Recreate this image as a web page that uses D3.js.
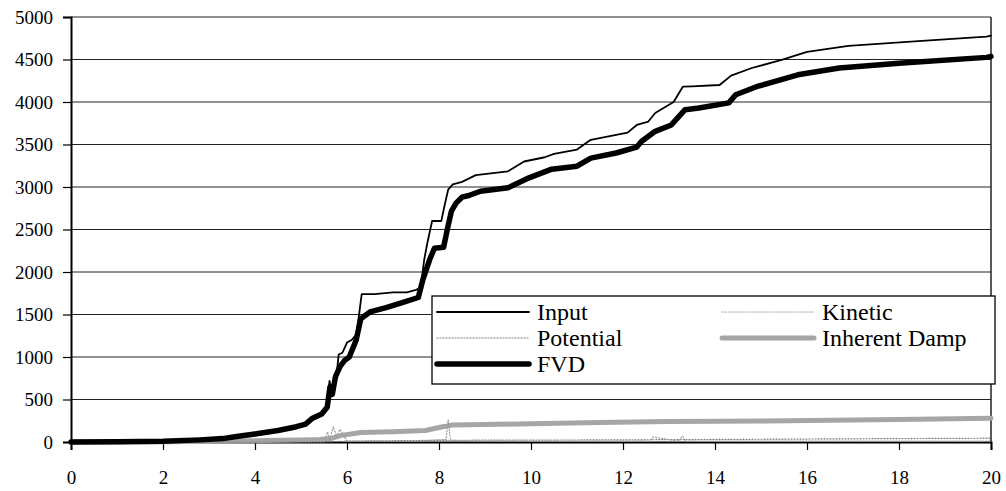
<!DOCTYPE html>
<html>
<head>
<meta charset="utf-8">
<script src="https://cdn.jsdelivr.net/npm/d3@7"></script>
<style>
html,body{margin:0;padding:0;background:#fff;}
svg{display:block;}
svg text{font-family:'Liberation Serif','Times New Roman',serif;}
</style>
</head>
<body>
<svg id="chart" width="1006" height="491"></svg>
<script>
// ---- data (time in s, energy) ----
const xTicks = [0, 2, 4, 6, 8, 10, 12, 14, 16, 18, 20];
const yTicks = [0, 500, 1000, 1500, 2000, 2500, 3000, 3500, 4000, 4500, 5000];

const inputT = [0, 1, 2, 2.8, 3.3, 3.6, 4.0, 4.5, 4.9, 5.1, 5.25, 5.45, 5.57, 5.62, 5.66, 5.70, 5.77, 5.82, 5.9, 6.0, 6.1, 6.2, 6.25, 6.32, 6.6, 7.0, 7.3, 7.5, 7.6, 7.68, 7.75, 7.85, 8.05, 8.12, 8.2, 8.3, 8.5, 8.8, 9.5, 9.85, 10.3, 10.5, 11.0, 11.3, 12.1, 12.3, 12.55, 12.7, 13.1, 13.3, 13.5, 14.1, 14.35, 14.8, 15.45, 16.0, 16.9, 18.5, 19.9, 20];
const inputV = [0, 2, 8, 25, 40, 65, 95, 140, 185, 215, 285, 330, 410, 720, 600, 690, 780, 1030, 1050, 1170, 1200, 1260, 1450, 1740, 1740, 1760, 1760, 1790, 1815, 2150, 2350, 2600, 2600, 2780, 2970, 3030, 3060, 3140, 3185, 3300, 3350, 3390, 3440, 3555, 3640, 3730, 3770, 3870, 4000, 4180, 4185, 4200, 4310, 4400, 4495, 4590, 4660, 4720, 4770, 4780];

const fvdT = [0, 1, 2, 2.8, 3.3, 3.6, 4.0, 4.5, 4.9, 5.1, 5.25, 5.45, 5.57, 5.63, 5.68, 5.75, 5.85, 5.95, 6.05, 6.2, 6.3, 6.5, 6.85, 7.2, 7.55, 7.65, 7.8, 7.9, 8.1, 8.18, 8.27, 8.37, 8.5, 8.65, 8.9, 9.5, 9.9, 10.45, 11.0, 11.3, 11.85, 12.3, 12.4, 12.7, 13.05, 13.35, 13.65, 14.3, 14.45, 14.9, 15.8, 16.7, 18.0, 19.9, 20];
const fvdV = [0, 2, 8, 25, 40, 65, 95, 135, 180, 210, 280, 330, 410, 650, 560, 770, 890, 960, 1000, 1200, 1450, 1530, 1580, 1640, 1700, 1910, 2150, 2280, 2290, 2500, 2715, 2810, 2880, 2900, 2950, 2990, 3095, 3210, 3245, 3340, 3400, 3470, 3535, 3655, 3730, 3910, 3930, 3990, 4085, 4180, 4320, 4400, 4455, 4525, 4535];

const dampT = [0, 2, 3.7, 4.5, 5.0, 5.4, 5.65, 5.85, 6.3, 7.0, 7.7, 8.0, 8.3, 9.0, 10, 11.5, 13, 15.6, 18, 20];
const dampV = [0, 2, 12, 20, 25, 30, 40, 75, 112, 120, 135, 170, 200, 205, 215, 230, 240, 250, 265, 280];

const potT = [0, 5.5, 6, 8, 12, 16, 20];
const potV = [0, 2, 10, 20, 25, 35, 45];

const kinT = [0, 5.5, 5.58, 5.62, 5.7, 5.78, 5.85, 6.0, 7.5, 8.15, 8.2, 8.25, 9, 12, 12.6, 12.65, 13.2, 13.3, 13.35, 20];
const kinV = [0, 5, 120, 20, 180, 60, 150, 10, 10, 30, 260, 20, 10, 10, 10, 60, 10, 70, 10, 10];

const seriesNames = ["Input", "Potential", "FVD", "Kinetic", "Inherent Damp"];

// ---- layout ----
const FONT = "'Liberation Serif','Times New Roman',serif";
const svg = d3.select("#chart");
const x = d3.scaleLinear().domain([0, 20]).range([71, 991]);
const y = d3.scaleLinear().domain([0, 5000]).range([442, 17]);

// gridlines
svg.append("g").selectAll("line").data(yTicks.filter(d => d > 0)).join("line")
  .attr("x1", x(0)).attr("x2", x(20))
  .attr("y1", d => y(d)).attr("y2", d => y(d))
  .attr("stroke", "#222").attr("stroke-width", 1);

// right border
svg.append("line").attr("x1", x(20)).attr("x2", x(20)).attr("y1", y(5000)).attr("y2", y(0))
  .attr("stroke", "#222").attr("stroke-width", 1.5);

// axes
const yAxis = d3.axisLeft(y).tickValues(yTicks).tickSize(8).tickPadding(10).tickFormat(d3.format("d"));
const gy = svg.append("g").attr("transform", `translate(${x(0)},0)`).call(yAxis);
const xAxis = d3.axisBottom(x).tickValues(xTicks).tickSize(8).tickPadding(21).tickFormat(d3.format("d"));
const gx = svg.append("g").attr("transform", `translate(0,${y(0)})`).call(xAxis);
[gy, gx].forEach(g => {
  g.attr("font-family", FONT).attr("font-size", 19);
  g.selectAll("text").style("font-family", FONT).attr("font-size", 19).attr("fill", "#000");
  g.selectAll("line").attr("stroke", "#000").attr("stroke-width", 1.2);
  g.select(".domain").attr("stroke", "#000").attr("stroke-width", 2);
});

const line = d3.line().x(d => x(d[0])).y(d => y(d[1]));
const zip = (a, b) => a.map((t, i) => [t, b[i]]);

const styles = {
  "Input": {stroke: "#000", width: 1.8, dash: null},
  "Potential": {stroke: "#7a7a7a", width: 1.2, dash: "1,2"},
  "FVD": {stroke: "#000", width: 5.5, dash: null},
  "Kinetic": {stroke: "#9a9a9a", width: 1.2, dash: "1,2"},
  "Inherent Damp": {stroke: "#a6a6a6", width: 5, dash: null}
};
const data = {
  "Input": zip(inputT, inputV),
  "Potential": zip(potT, potV),
  "FVD": zip(fvdT, fvdV),
  "Kinetic": zip(kinT, kinV),
  "Inherent Damp": zip(dampT, dampV)
};

["Inherent Damp", "Potential", "Kinetic", "FVD", "Input"].forEach(name => {
  const s = styles[name];
  svg.append("path").datum(data[name]).attr("d", line)
    .attr("fill", "none").attr("stroke", s.stroke).attr("stroke-width", s.width)
    .attr("stroke-linejoin", "round").attr("stroke-linecap", "round")
    .attr("stroke-dasharray", s.dash);
});

// legend
const lg = svg.append("g");
lg.append("rect").attr("x", 432).attr("y", 296).attr("width", 563).attr("height", 88)
  .attr("fill", "#fff").attr("stroke", "#000").attr("stroke-width", 1.3);
const legendPos = {
  "Input": [437, 312], "Potential": [437, 338], "FVD": [437, 364],
  "Kinetic": [722, 312], "Inherent Damp": [722, 338]
};
seriesNames.forEach(name => {
  const [lx, ly] = legendPos[name];
  const s = styles[name];
  lg.append("line").attr("x1", lx).attr("x2", lx + 92).attr("y1", ly).attr("y2", ly)
    .attr("stroke", s.stroke).attr("stroke-width", s.width).attr("stroke-linecap", "round")
    .attr("stroke-dasharray", s.dash);
  lg.append("text").attr("x", lx + 100).attr("y", ly).attr("dy", "0.35em")
    .style("font-family", FONT).attr("font-size", 24).attr("fill", "#000").text(name);
});
</script>
</body>
</html>
